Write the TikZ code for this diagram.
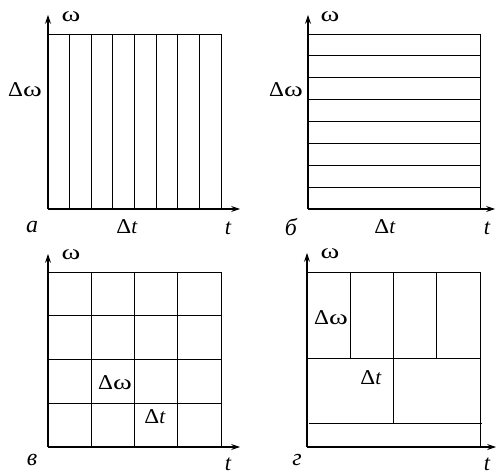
\documentclass[tikz,border=0pt]{standalone}
\usepackage{fontspec}
\usepackage{graphicx}
\setmainfont{Liberation Serif}
\usetikzlibrary{arrows.meta}
\newcommand{\dsym}{\scalebox{1.1}[1]{Δ}}
\newcommand{\wsym}{\scalebox{1.35}[1]{ω}}
\tikzset{
  ax/.style={-{Stealth[length=2.2mm,width=1.5mm]}, line width=0.75pt},
  grd/.style={line width=0.55pt},
  lab/.style={font=\rmfamily\fontsize{15}{17}\selectfont, inner sep=0pt},
  tlab/.style={font=\rmfamily\fontsize{16}{18}\selectfont\itshape, inner sep=0pt},
  plab/.style={font=\rmfamily\fontsize{17}{19}\selectfont\itshape, inner sep=0pt},
}
\begin{document}
\begin{tikzpicture}[x=0.25mm,y=0.25mm]
  \useasboundingbox (0,0) rectangle (496,475);
  % a: vertical strips
  \begin{scope}[shift={(48,266)}]
    \coordinate (oa) at (0,0);
    \coordinate (ya) at (0,194);
    \coordinate (xa) at (192,0);
    \foreach \i in {1,...,8} \draw[grd] ({\i*173/8},0) -- ++(0,175);
    \draw[grd] (0,175) -- (173,175);
    \draw[ax] (oa) -- (ya);
    \draw[ax] (oa) -- (xa);
    \node[lab] (wa) at (23,192) {\wsym};
    \node[lab] (dwa) at (-23,119) {\dsym\wsym};
    \node[lab] (dta) at (79,-18) {\dsym\textit{t}};
    \node[tlab] (ta) at (180,-19) {t};
    \node[plab] (na) at (-16,-18) {а};
  \end{scope}
  % b: horizontal strips
  \begin{scope}[shift={(308,266)}]
    \coordinate (ob) at (0,0);
    \coordinate (yb) at (0,194);
    \coordinate (xb) at (187,0);
    \foreach \j in {1,...,8} \draw[grd] (0,{\j*175/8}) -- ++(172,0);
    \draw[grd] (172,0) -- (172,175);
    \draw[ax] (ob) -- (yb);
    \draw[ax] (ob) -- (xb);
    \node[lab] (wb) at (22,192) {\wsym};
    \node[lab] (dwb) at (-22,119) {\dsym\wsym};
    \node[lab] (dtb) at (77,-18) {\dsym\textit{t}};
    \node[tlab] (tb) at (179,-19) {t};
    \node[plab] (nb) at (-17,-18) {б};
  \end{scope}
  % v: square cells
  \begin{scope}[shift={(48,28)}]
    \coordinate (ov) at (0,0);
    \coordinate (yv) at (0,193);
    \coordinate (xv) at (192,0);
    \foreach \i in {1,...,4} {
      \draw[grd] ({\i*173/4},0) -- ++(0,175);
      \draw[grd] (0,{\i*175/4}) -- ++(173,0);
    }
    \draw[ax] (ov) -- (yv);
    \draw[ax] (ov) -- (xv);
    \node[lab] (wv) at (23,192) {\wsym};
    \node[lab] (dwv) at (67,64) {\dsym\wsym};
    \node[lab] (dtv) at (107,30) {\dsym\textit{t}};
    \node[tlab] (tv) at (180,-17) {t};
    \node[plab] (nv) at (-16,-13) {в};
  \end{scope}
  % g: mixed cells
  \begin{scope}[shift={(307,28)}]
    \coordinate (og) at (0,0);
    \coordinate (yg) at (0,194);
    \coordinate (xg) at (189,0);
    \draw[grd] (0,175) -- (173,175) -- (173,0);
    \foreach \i in {1,2,3} \draw[grd] ({\i*43.25},89) -- ++(0,86);
    \draw[grd] (0,89) -- (173,89);
    \draw[grd] (86.5,24) -- (86.5,89);
    \draw[grd] (2,24) -- (175,24);
    \draw[ax] (og) -- (yg);
    \draw[ax] (og) -- (xg);
    \node[lab] (wg) at (23,193) {\wsym};
    \node[lab] (dwg) at (24,129) {\dsym\wsym};
    \node[lab] (dtg) at (64,69) {\dsym\textit{t}};
    \node[tlab] (tg) at (180,-17) {t};
    \node[plab] (ng) at (-10,-13) {г};
  \end{scope}
\end{tikzpicture}
\end{document}
